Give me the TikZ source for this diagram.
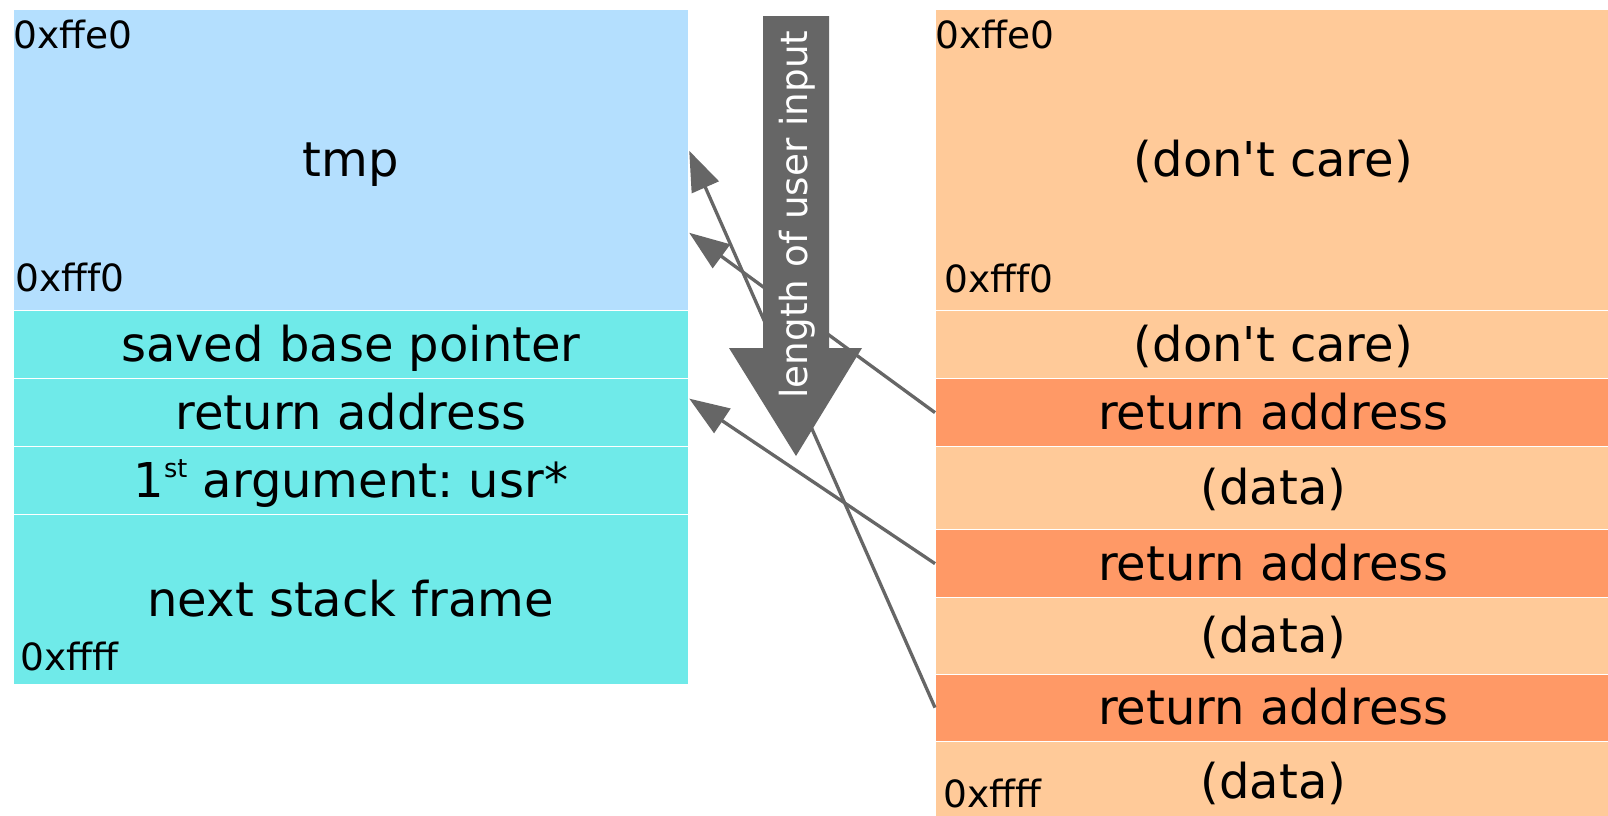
\documentclass[tikz,border=0pt]{standalone}
\usepackage{fontspec}
\setmainfont{DejaVu Sans}
\usetikzlibrary{arrows.meta}
\definecolor{tmpblue}{HTML}{B4DFFE}
\definecolor{frameteal}{HTML}{6FEAE9}
\definecolor{peach}{HTML}{FFCA99}
\definecolor{hotorange}{HTML}{FF9966}
\definecolor{arrowgray}{HTML}{666666}
\frenchspacing
\begin{document}
\begin{tikzpicture}[x=1pt,y=-1pt,
  cell/.style={rectangle, draw=white, line width=1.2pt, minimum width=675.5pt,
    anchor=north west, inner sep=0pt, text height=40pt, text depth=7pt,
    font=\fontsize{48}{57}\selectfont},
  addr/.style={anchor=base west, inner sep=0pt, font=\fontsize{37.5}{45}\selectfont},
  jump/.style={draw=arrowgray, line width=3.3pt, -{Triangle[length=40pt,width=29pt]}},
]
\useasboundingbox (0,0) rectangle (1608,815);
\clip (0,0) rectangle (1608,815);
\fill[white] (0,0) rectangle (1608,815);

% stack frame of the vulnerable function
\node[cell, fill=tmpblue, minimum height=301.7pt] (tmp) at (12.5,8.3) {tmp};
\node[cell, fill=frameteal, minimum height=68pt] (sbp) at (12.5,310) {saved base pointer};
\node[cell, fill=frameteal, minimum height=68pt] (ret) at (12.5,378) {return address};
\node[cell, fill=frameteal, minimum height=68pt] (arg) at (12.5,446)
  {1\raisebox{20pt}{\fontsize{25.5}{30}\selectfont st} argument: usr*};
\node[cell, fill=frameteal, minimum height=170pt] (next) at (12.5,514) {next stack frame};

% crafted user input
\node[cell, fill=peach, minimum height=301.7pt] (dc1) at (935,8.3) {(don\textquotesingle t care)};
\node[cell, fill=peach, minimum height=68pt] (dc2) at (935,310) {(don\textquotesingle t care)};
\node[cell, fill=hotorange, minimum height=68pt] (ra1) at (935,378) {return address};
\node[cell, fill=peach, minimum height=83pt] (d1) at (935,446) {(data)};
\node[cell, fill=hotorange, minimum height=68pt] (ra2) at (935,529) {return address};
\node[cell, fill=peach, minimum height=76.5pt] (d2) at (935,597) {(data)};
\node[cell, fill=hotorange, minimum height=67pt] (ra3) at (935,673.5) {return address};
\node[cell, fill=peach, minimum height=81pt] (d3) at (935,740.5) {(data)};

% addresses
\node[addr] (la1) at (13,48) {0xffe0};
\node[addr] (la2) at (15,291) {0xfff0};
\node[addr] (la3) at (20,670) {0xffff};
\node[addr] (ra1a) at (935.5,48) {0xffe0};
\node[addr] (ra2a) at (944,292) {0xfff0};
\node[addr] (ra3a) at (943,807) {0xffff};

% where each return address lands
\draw[jump] (ra1.west) -- ([yshift=-73pt]tmp.east);
\draw[jump] (ra2.west) -- ([yshift=14pt]ret.east);
\draw[jump] (ra3.west) -- ([yshift=9pt]tmp.east);

% input length arrow
\fill[arrowgray] (763,16) -- (829,16) -- (829,348) -- (862,348) -- (796,456)
  -- (729,348) -- (763,348) -- cycle;
\node[rotate=90, text=white, inner sep=0pt, font=\fontsize{37.3}{44}\selectfont]
  (len) at (797,214.5) {length of user input};
\end{tikzpicture}
\end{document}
